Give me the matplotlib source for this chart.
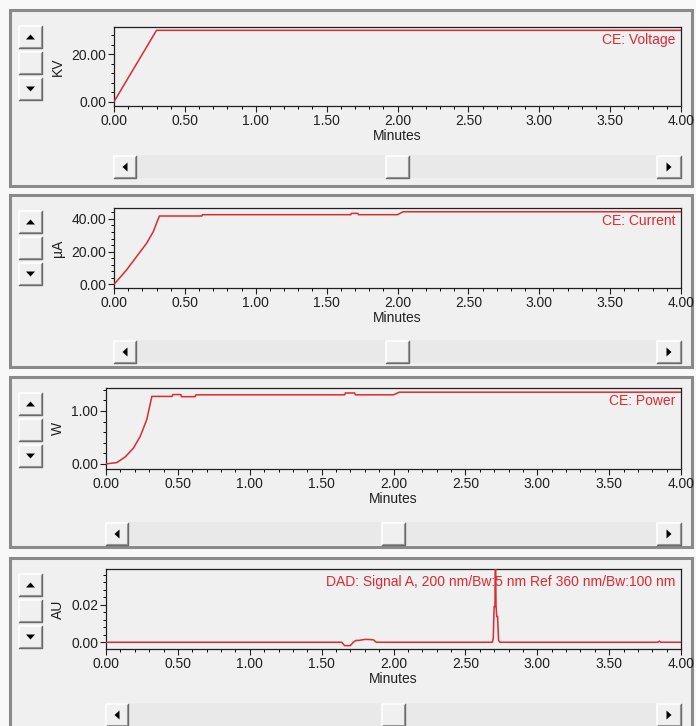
import matplotlib
matplotlib.use("Agg")
import matplotlib.pyplot as plt
from matplotlib.patches import Rectangle, Polygon
from matplotlib.ticker import MultipleLocator, AutoMinorLocator, FormatStrFormatter

plt.rcParams["font.family"] = ["Liberation Sans", "DejaVu Sans"]
plt.rcParams["font.size"] = 10

# %% data
volt_t = [0.0, 0.30, 4.0]
volt_kv = [0.0, 30.0, 30.0]

curr_t = [0.0, 0.017, 0.088, 0.159, 0.23, 0.277, 0.32, 0.62, 0.625,
          1.67, 1.675, 1.72, 1.725, 2.0, 2.04, 4.0]
curr_ua = [0.0, 1.6, 8.7, 16.9, 25.1, 32.2, 41.8, 41.8, 42.6,
           42.6, 43.4, 43.4, 42.6, 42.6, 44.4, 44.4]

power_t = [0.0, 0.075, 0.133, 0.191, 0.238, 0.284, 0.319, 0.46, 0.465,
           0.52, 0.525, 0.62, 0.625, 1.66, 1.665, 1.73, 1.735, 2.0, 2.04, 4.0]
power_w = [0.0, 0.025, 0.13, 0.30, 0.52, 0.84, 1.275, 1.275, 1.31,
           1.31, 1.27, 1.27, 1.305, 1.305, 1.34, 1.34, 1.305, 1.305, 1.355, 1.355]

dad_t = [0.0, 1.64, 1.66, 1.70, 1.72, 1.74, 1.76, 1.80, 1.82, 1.86, 1.88,
         2.688, 2.694, 2.700, 2.706, 2.709, 2.713, 2.718, 2.724, 2.731, 2.74,
         3.84, 3.85, 3.86, 4.0]
dad_au = [0.0, 0.0, -0.0018, -0.0018, 0.0, 0.0010, 0.0010, 0.0015, 0.0015, 0.0013, 0.0,
          0.0, 0.002, 0.019, 0.019, 0.06, 0.02, 0.0137, 0.0137, 0.001, 0.0,
          0.0, 0.0006, 0.0, 0.0]

series = [
    (volt_t, volt_kv, "KV", "CE: Voltage", (-1.8, 31.4), 20),
    (curr_t, curr_ua, "µA", "CE: Current", (-2.3, 46.7), 20),
    (power_t, power_w, "W", "CE: Power", (-0.096, 1.434), 1.0),
    (dad_t, dad_au, "AU", "DAD: Signal A, 200 nm/Bw:5 nm Ref 360 nm/Bw:100 nm",
     (-0.0036, 0.0391), 0.02),
]

# %% layout (pixels)
W, H = 696, 726
RED = "#dc2a32"
FACE = "#f0f0f0"
panels = [(10, 186), (195, 367), (377, 547), (558, 740)]
axes_px = [(114, 27, 681, 106), (114, 208, 681, 288),
           (106, 388, 681, 469), (106, 569, 681, 649)]

fig = plt.figure(figsize=(W / 100, H / 100), dpi=100, facecolor="#f8f8f8")
bg = fig.add_axes([0, 0, 1, 1])
bg.set_xlim(0, W)
bg.set_ylim(H, 0)
bg.axis("off")


def bevel(x0, y0, w, h):
    bg.add_patch(Rectangle((x0, y0), w, h, facecolor=FACE, edgecolor="none"))
    bg.plot([x0, x0, x0 + w], [y0 + h, y0, y0], color="white", lw=1.2)
    bg.plot([x0 + 1, x0 + w - 1, x0 + w - 1], [y0 + h - 1, y0 + h - 1, y0 + 1],
            color="#a0a0a0", lw=0.8)
    bg.plot([x0, x0 + w, x0 + w], [y0 + h, y0 + h, y0], color="#6a6a6a", lw=1.0)


def arrow(cx, cy, direction):
    s = 4.5
    if direction == "up":
        pts = [(cx - s, cy + 2.5), (cx + s, cy + 2.5), (cx, cy - 2.5)]
    elif direction == "down":
        pts = [(cx - s, cy - 2.5), (cx + s, cy - 2.5), (cx, cy + 2.5)]
    elif direction == "left":
        pts = [(cx + 2.5, cy - s), (cx + 2.5, cy + s), (cx - 2.5, cy)]
    else:
        pts = [(cx - 2.5, cy - s), (cx - 2.5, cy + s), (cx + 2.5, cy)]
    bg.add_patch(Polygon(pts, closed=True, facecolor="black", edgecolor="none"))


for (top, bottom), (ax0, ay0, ax1, ay1), (t, v, ylab, name, ylim, major) in zip(
        panels, axes_px, series):
    # panel frame
    bg.add_patch(Rectangle((10, top), 682, bottom - top, facecolor=FACE,
                           edgecolor="#8a8a8a", lw=2.2))
    # zoom buttons on the left
    bevel(19, top + 16, 23, 22)
    arrow(30.5, top + 27, "up")
    bevel(19, top + 42, 23, 22)
    bevel(19, top + 68, 23, 22)
    arrow(30.5, top + 79, "down")
    # horizontal scrollbar
    sy = top + 145
    bg.add_patch(Rectangle((ax0, sy), 682 - ax0, 23, facecolor="#e9e9e9",
                           edgecolor="none"))
    bevel(ax0, sy + 1, 22, 22)
    arrow(ax0 + 11, sy + 12, "left")
    bevel(657, sy + 1, 24, 22)
    arrow(669, sy + 12, "right")
    mid = (ax0 + 22 + 657) / 2
    bevel(mid - 11, sy + 1, 23, 22)

    # data axes
    ax = fig.add_axes([ax0 / W, 1 - ay1 / H, (ax1 - ax0) / W, (ay1 - ay0) / H])
    ax.set_facecolor(FACE)
    ax.plot(t, v, color=RED, lw=1.1, zorder=3)
    ax.set_xlim(0, 4.0)
    ax.set_ylim(*ylim)
    ax.xaxis.set_major_locator(MultipleLocator(0.5))
    ax.xaxis.set_minor_locator(AutoMinorLocator(5))
    ax.yaxis.set_major_locator(MultipleLocator(major))
    ax.yaxis.set_minor_locator(AutoMinorLocator(5))
    ax.xaxis.set_major_formatter(FormatStrFormatter("%.2f"))
    ax.yaxis.set_major_formatter(FormatStrFormatter("%.2f"))
    ax.tick_params(which="major", direction="out", length=4.5, width=0.8,
                   pad=1, labelsize=10, colors="#202020")
    ax.tick_params(which="minor", direction="out", length=2.2, width=0.7)
    for sp in ax.spines.values():
        sp.set_linewidth(0.9)
        sp.set_color("#202020")
    ax.set_xlabel("Minutes", fontsize=10, labelpad=1, color="#202020")
    fig.text(58 / W, 1 - ((ay0 + ay1) / 2) / H, ylab, rotation=90,
             ha="center", va="center", fontsize=10, color="#202020")
    ax.annotate(name, xy=(1, 1), xycoords="axes fraction", xytext=(-6, -13),
                textcoords="offset pixels", ha="right", va="center",
                color=RED, fontsize=10, zorder=2)

fig.savefig("out.png", dpi=100, facecolor=fig.get_facecolor())
